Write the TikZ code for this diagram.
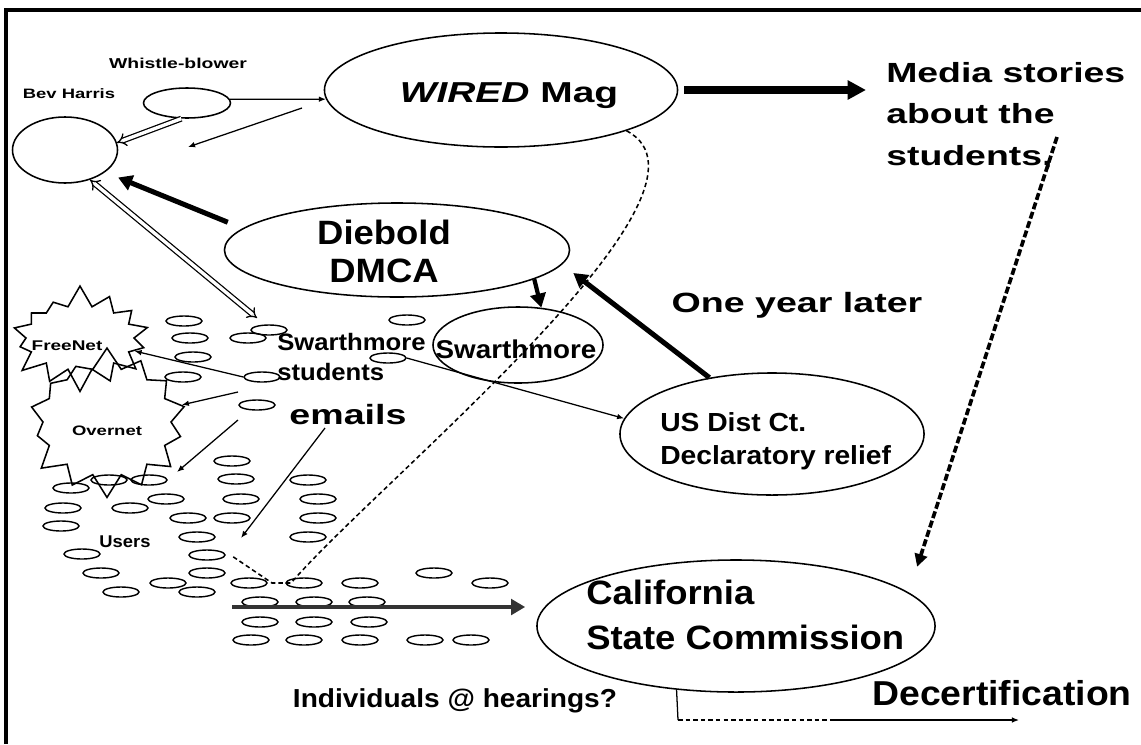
\documentclass[tikz,border=0pt]{standalone}
\usepackage{fontspec}
\setmainfont{Liberation Sans}[FakeStretch=1.08]
\newfontfamily\widefont{Liberation Sans}[FakeStretch=1.35]
\usetikzlibrary{arrows.meta,shapes.geometric,shapes.symbols}

\begin{document}
\begin{tikzpicture}[
       x=0.025cm,
       y=-0.025cm,
       oval/.style={
         ellipse,
         draw,
         line width=1.1pt,
         inner sep=0pt
       },
       user/.style={
         ellipse,
         draw,
         line width=1pt,
         inner sep=0pt,
         minimum width=0.9cm,
         minimum height=0.25cm
       },
       burst/.style={
         starburst,
         draw,
         line width=1.1pt,
         inner sep=0pt,
         starburst points=14,
         starburst point height=0.55cm,
         random starburst=7
       },
       lbl/.style={inner sep=0pt},
       lnk/.style={line width=0.9pt, -{Latex[length=5pt,width=4pt]}},
       dbl/.style={double, double distance=2.4pt, line width=0.9pt, -{Implies}},
       heavy/.style={line width=3.6pt, -{Triangle[length=10pt,width=11pt]}},
       fat/.style={line width=5pt, -{Triangle[length=13pt,width=13pt]}},
       dsharr/.style={line width=2.6pt, dash pattern=on 5pt off 2pt, -{Triangle[length=9pt,width=9pt]}},
       dots/.style={line width=1.1pt, dash pattern=on 3.2pt off 2.2pt}
     ]

       \useasboundingbox (0,0) rectangle (1141,744);
       \draw[line width=2.2pt] (6,744) -- (6,10) -- (1141,10);

       \node (whistle) at (187,103) [oval, minimum width=2.175cm, minimum height=0.75cm]{};
       \node (bev) at (65,150) [oval, minimum width=2.625cm, minimum height=1.65cm]{};
       \node (wired) at (501,90) [oval, minimum width=8.825cm, minimum height=2.85cm]{};
       \node (diebold) at (397,250) [oval, minimum width=8.625cm, minimum height=2.35cm]{};
       \node (swarth) at (518,345) [oval, minimum width=4.25cm, minimum height=1.9cm]{};
       \node (usdist) at (772,434) [oval, minimum width=7.6cm, minimum height=3.05cm]{};
       \node (calif) at (736,626) [oval, minimum width=9.95cm, minimum height=3.3cm]{};

       \node (freenet) at (80,338) [burst, minimum width=3.8cm, minimum height=2.7cm]{};
       \node (overnet) at (107,422) [burst, minimum width=4.3cm, minimum height=3.8cm]{};

       \foreach \x/\y [count=\i] in {184/321, 190/338, 193/357, 183/377, 248/338,
           269/330, 262/377, 257/405, 407/320, 388/358, 232/461, 236/479, 308/480,
           109/480, 149/480, 71/488, 166/499, 241/499, 318/499, 63/508, 130/508,
           188/518, 232/518, 318/518, 61/526, 197/537, 308/537, 82/554, 207/555,
           101/573, 207/573, 168/583, 249/583, 304/583, 360/583, 434/573, 490/583,
           121/592, 197/592, 260/602, 314/602, 367/602, 260/622, 314/622, 369/622,
           251/640, 304/640, 360/640, 425/640, 471/640}
         \node (u\i) at (\x,\y) [user]{};

       \node (lwhistle) at (178,68) [lbl, anchor=base, font=\widefont\bfseries\fontsize{10.2}{12}\selectfont]{Whistle-blower};
       \node (lbev) at (69,98) [lbl, anchor=base, font=\widefont\bfseries\fontsize{9.7}{12}\selectfont]{Bev Harris};
       \node (lwired) at (509,102) [lbl, anchor=base, font=\widefont\bfseries\fontsize{20.5}{24}\selectfont]{\textit{WIRED} Mag};
       \node (media) at (886,62) [lbl, anchor=north west, align=left, font=\widefont\bfseries\fontsize{19.7}{29.5}\selectfont]{Media stories\\about the\\students,};
       \node (ldiebold) at (384,220) [lbl, anchor=north, align=center, font=\bfseries\fontsize{24}{26.7}\selectfont]{Diebold\\DMCA};
       \node (later) at (797,312) [lbl, anchor=base, font=\widefont\bfseries\fontsize{19.8}{24}\selectfont]{One year later};
       \node (lswarth) at (516,340) [lbl, anchor=north, font=\bfseries\fontsize{18.3}{22}\selectfont]{Swarthmore};
       \node (students) at (277,333) [lbl, anchor=north west, align=left, font=\bfseries\fontsize{16.9}{21.3}\selectfont]{Swarthmore\\students};
       \node (emails) at (348,424) [lbl, anchor=base, font=\widefont\bfseries\fontsize{19.8}{24}\selectfont]{emails};
       \node (lusdist) at (660,412) [lbl, anchor=north west, align=left, font=\bfseries\fontsize{18.6}{23.5}\selectfont]{US Dist Ct.\\Declaratory relief};
       \node (lfreenet) at (67,350) [lbl, anchor=base, font=\widefont\bfseries\fontsize{10}{12}\selectfont]{FreeNet};
       \node (lovernet) at (107,435) [lbl, anchor=base, font=\widefont\bfseries\fontsize{9.75}{12}\selectfont]{Overnet};
       \node (users) at (125,547) [lbl, anchor=base, font=\bfseries\fontsize{12.1}{14}\selectfont]{Users};
       \node (lcalif) at (586,580) [lbl, anchor=north west, align=left, font=\bfseries\fontsize{24}{32}\selectfont]{California\\State Commission};
       \node (hearings) at (455,707) [lbl, anchor=base, font=\bfseries\fontsize{18.5}{22}\selectfont]{Individuals @ hearings?};
       \node (decert) at (1002,705) [lbl, anchor=base, font=\bfseries\fontsize{24.6}{28}\selectfont]{Decertification};

       \coordinate (w1) at (302,108);
       \coordinate (w2) at (188,147);
       \coordinate (h1) at (257,318);
       \coordinate (s1) at (238,392);
       \coordinate (s2) at (238,420);
       \coordinate (s3) at (177,472);
       \coordinate (e1) at (325,428);
       \coordinate (e2) at (241,538);
       \coordinate (m1) at (1057,137);
       \coordinate (k1) at (232,556);
       \coordinate (b1) at (232,607);
       \coordinate (d1) at (678,720);
       \coordinate (d2) at (833,720);
       \coordinate (d3) at (1019,720);

       \draw[lnk] (whistle.5) -- (wired.183);
       \draw[lnk] (w1) -- (w2);
       \draw[dbl] (whistle.250) -- (bev.8);
       \draw[heavy, shorten <=0.4cm, shorten >=0.35cm] (diebold.172) -- (bev.-29);
       \draw[dbl, {Implies}-{Implies}] (bev.-50) -- (h1);

       \draw[fat, shorten <=0.15cm, shorten >=0.5cm] (wired.east) -- (media.west |- wired.east);
       \draw[dsharr, shorten >=0.675cm] (m1) -- (calif.11);
       \draw[dots] (wired.-18) .. controls (740,190) and (380,480) .. (291,583) -- (272,583) -- (k1);

       \draw[heavy, line width=3pt] (diebold.-12) -- (swarth.58);
       \draw[heavy, shorten >=0.35cm] (usdist.138) -- (diebold.-5);

       \draw[lnk] (u10.east) -- (usdist.174);
       \draw[lnk] (u7.west) -- (freenet);
       \draw[lnk] (s1) -- (overnet);
       \draw[lnk] (s2) -- (s3);
       \draw[lnk] (e1) -- (e2);

       \draw[heavy, line width=3.2pt, black!80, shorten >=0.275cm] (b1) -- (calif.west |- b1);
       \draw[line width=0.9pt] (calif.227) -- (d1);
       \draw[dots] (d1) -- (d2);
       \draw[lnk] (d2) -- (d3);

\end{tikzpicture}
\end{document}
